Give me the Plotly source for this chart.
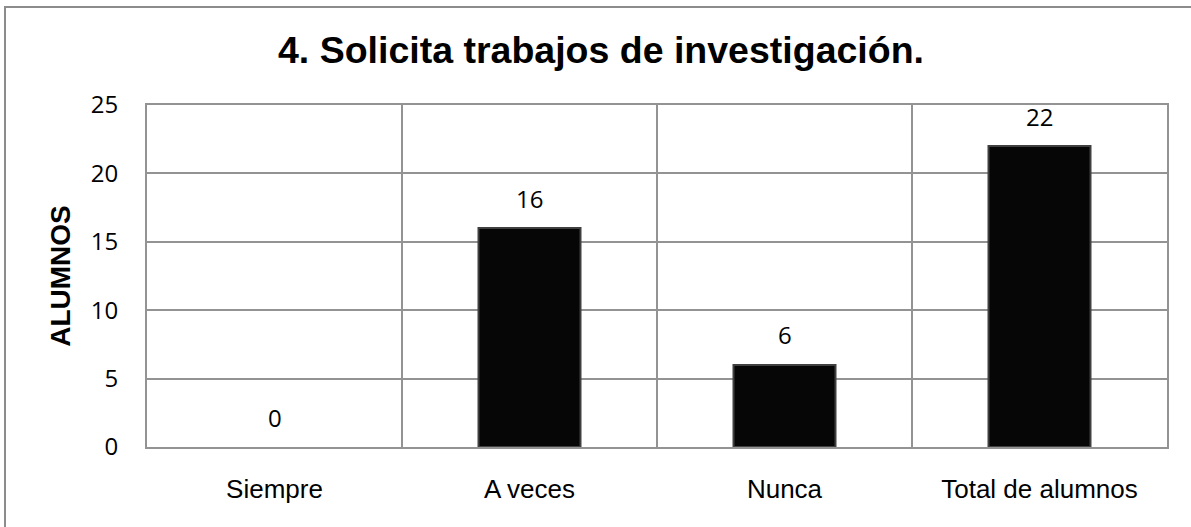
import plotly.graph_objects as go

categories = ["Siempre", "A veces", "Nunca", "Total de alumnos"]
values = [0, 16, 6, 22]
y_ticks = [0, 5, 10, 15, 20, 25]
title_text = "4. Solicita trabajos de investigación."
y_title = "ALUMNOS"

W, H = 1191, 527
ML, MR, MT, MB = 147, 24, 105, 80
pw = W - ML - MR
ph = H - MT - MB

grid = "#939393"

fig = go.Figure()
fig.add_trace(go.Bar(
    x=categories, y=values,
    marker=dict(color="#060606",
                line=dict(color="#404040", width=[0 if v == 0 else 2 for v in values])),
    width=0.4,
    hoverinfo="skip",
))

for c, v in zip(categories, values):
    fig.add_annotation(
        x=c, y=v, text=str(v), showarrow=False, yshift=30,
        xref="x", yref="y",
        font=dict(family="Open Sans", size=24, color="#000000"),
    )

# outer chart border (extends beyond right/bottom edges)
fig.add_shape(
    type="rect", xref="paper", yref="paper",
    x0=(5 - ML) / pw, x1=(W + 10 - ML) / pw,
    y0=-(H + 10 - (MT + ph)) / ph, y1=(MT + ph - 7) / ph,
    line=dict(color="#8c8c8c", width=2), fillcolor="rgba(0,0,0,0)",
)

fig.update_layout(
    width=W, height=H,
    margin=dict(l=ML, r=MR, t=MT, b=MB),
    paper_bgcolor="white", plot_bgcolor="white",
    showlegend=False,
    title=dict(
        text=title_text, x=601 / W, xanchor="center", xref="container",
        y=1 - 50 / H, yanchor="middle", yref="container",
        font=dict(family="Liberation Sans, Arial", size=37.5, color="#000000", weight="bold"),
    ),
    bargap=0.6,
)

fig.update_xaxes(
    type="category",
    showgrid=True, gridcolor=grid, gridwidth=1.5,
    tickson="boundaries", ticks="",
    showline=True, linecolor=grid, linewidth=2, mirror=True,
    tickfont=dict(family="Liberation Sans, Arial", size=26, color="#000000"),
    ticklabelstandoff=18,
    fixedrange=True,
)
fig.update_yaxes(
    range=[0, 25], tickvals=y_ticks,
    showgrid=True, gridcolor=grid, gridwidth=1.5,
    showline=True, linecolor=grid, linewidth=2, mirror=True,
    zeroline=False, ticks="",
    tickfont=dict(family="Open Sans", size=24, color="#000000"),
    ticklabelstandoff=22,
    title=dict(text=y_title, standoff=12,
               font=dict(family="Liberation Sans, Arial", size=28, color="#000000", weight="bold")),
    fixedrange=True,
)

fig.write_html(
    "out.html",
    config={"displayModeBar": False},
    post_script="document.body.style.margin='0';document.body.style.overflow='hidden';",
)
